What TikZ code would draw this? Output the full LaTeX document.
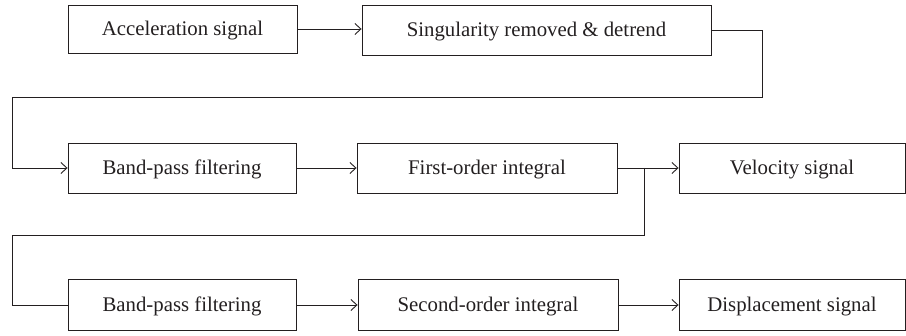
\documentclass[tikz,border=0pt]{standalone}
\usepackage{fontspec}
\setmainfont{Liberation Serif}
\usetikzlibrary{arrows.meta}
\definecolor{ink}{HTML}{231F20}
\begin{document}
\begin{tikzpicture}[x=1pt,y=-1pt,
  blk/.style={draw=ink,line width=0.9pt,text=ink,inner sep=0pt,
    text height=13pt,text depth=0pt,
    font=\fontsize{20.8}{24}\selectfont},
  con/.style={draw=ink,line width=0.9pt},
  arr/.style={con,-{Straight Barb[length=6pt,width=11pt,line width=0.9pt]}}]
\useasboundingbox (0,0) rectangle (906,336);
% row 1
\node[blk,minimum width=229pt,minimum height=48pt] (b1) at (182.5,29) {Acceleration signal};
\node[blk,minimum width=349pt,minimum height=50pt] (b2) at (536.5,30) {Singularity removed \& detrend};
% row 2
\node[blk,minimum width=228pt,minimum height=50pt] (bp1) at (182,168) {Band-pass filtering};
\node[blk,minimum width=260pt,minimum height=50pt] (fo) at (487,168) {First-order integral};
\node[blk,minimum width=226pt,minimum height=50pt] (vel) at (792,168) {Velocity signal};
% row 3
\node[blk,minimum width=228pt,minimum height=51pt] (bp2) at (182,305) {Band-pass filtering};
\node[blk,minimum width=260pt,minimum height=51pt] (so) at (488,305) {Second-order integral};
\node[blk,minimum width=226pt,minimum height=51pt] (dis) at (792,305) {Displacement signal};
% helper coordinates
\coordinate (c1) at (762,97);
\coordinate (c2) at (12,97);
\coordinate (j) at (644,168);
\coordinate (c3) at (644,235);
\coordinate (c4) at (12,235);
% connectors
\draw[arr] (b1.east) -- (b2.west |- b1.east);
\draw[arr] (b2.east) -| (c1) -- (c2) |- (bp1.west);
\draw[arr] (bp1) -- (fo);
\draw[arr] (fo) -- (vel);
\draw[con] (j) -- (c3) -- (c4) |- (bp2.west);
\draw[arr] (bp2) -- (so);
\draw[arr] (so) -- (dis);
\end{tikzpicture}
\end{document}
